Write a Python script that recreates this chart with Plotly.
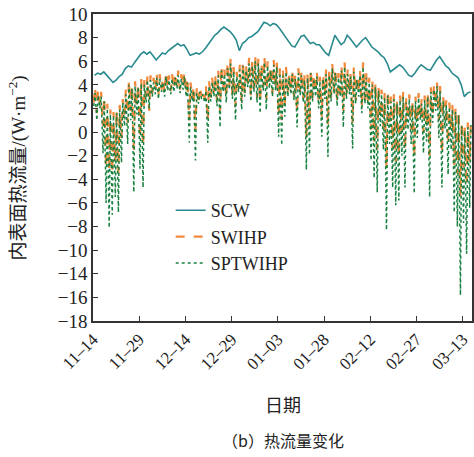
import plotly.graph_objects as go

# Day index 0 = 11-14; x axis ticks every 15 days
tick_days = [0, 15, 30, 45, 60, 75, 90, 105, 120]
tick_labels = ["11–14", "11–29", "12–14", "12–29", "01–03", "01–28", "02–12", "02–27", "03–13"]

y_tickvals = [10, 8, 6, 4, 2, 0, -2, -4, -6, -8, -10, -12, -14, -16]
y_ticktext = ["10", "8", "6", "4", "2", "0", "−2", "−4", "−6", "−8", "−10", "−14", "−16", "−18"]

# SCW: daily inner-surface heat flux (W/m2)
scw = [4.8, 5.0, 4.9, 5.1, 4.8, 4.5, 4.2, 4.4, 4.7, 4.9,
       5.4, 5.6, 5.5, 5.9, 6.3, 6.6, 6.8, 6.6, 6.8, 6.4,
       6.1, 6.4, 6.7, 6.6, 6.9, 7.1, 7.3, 7.5, 7.3, 7.4,
       7.0, 6.5, 6.6, 6.7, 6.6, 6.8, 7.1, 7.5, 7.9, 8.2,
       8.4, 8.7, 8.9, 8.7, 8.5, 8.2, 7.8, 6.9, 7.5, 7.7,
       8.0, 8.1, 8.3, 8.5, 8.9, 9.3, 9.2, 9.0, 9.2, 9.1,
       8.8, 8.4, 8.0, 7.6, 7.3, 7.2, 7.6, 8.1, 8.2, 7.8,
       7.5, 7.6, 7.4, 7.4, 7.0, 6.7, 6.5, 7.3, 8.2, 7.8,
       7.4, 7.6, 8.2, 7.9, 7.5, 7.2, 7.5, 7.8, 8.0, 7.6,
       7.2, 7.0, 6.8, 6.5, 6.3, 5.8, 5.1, 5.3, 5.5, 5.7,
       5.5, 5.1, 4.8, 4.7, 5.0, 5.4, 5.7, 5.5, 5.3, 5.25,
       5.7, 6.1, 6.4, 6.0, 5.6, 5.4, 5.0, 4.8, 4.6, 4.0,
       3.0, 3.3, 3.4]

# SWIHP: daily high / low
swihp_high = [3.8, 3.6, 3.4, 3.0, 2.4, 1.9, 1.7, 1.9, 2.3, 2.8,
              3.6, 4.4, 4.0, 4.3, 4.1, 4.5, 4.4, 4.7, 4.8, 4.6,
              5.0, 4.9, 4.6, 5.1, 4.8, 4.9, 5.0, 5.2, 4.9, 5.1,
              4.6, 4.2, 3.9, 3.7, 3.8, 3.6, 3.9, 4.3, 4.6, 4.8,
              5.2, 5.6, 5.3, 5.9, 6.2, 5.5, 5.1, 5.7, 6.0, 5.6,
              6.3, 6.0, 6.5, 6.2, 5.8, 6.4, 6.0, 5.6, 6.1, 5.9,
              5.4, 5.2, 5.5, 5.0, 5.3, 4.9, 5.4, 5.2, 4.8, 5.0,
              5.4, 4.9, 5.1, 4.7, 4.9, 5.3, 5.2, 5.8, 5.4, 5.0,
              5.6, 5.9, 5.3, 5.1, 5.5, 4.8, 5.2, 5.9, 5.0, 4.6,
              4.4, 4.2, 3.9, 3.6, 3.3, 3.5, 3.0, 3.2, 2.8, 3.1,
              3.4, 2.9, 3.2, 2.7, 3.0, 3.3, 2.8, 3.1, 3.4, 3.8,
              4.0, 4.2, 3.9, 3.0, 2.7, 2.5, 2.3, 2.1, 1.8, 0.9,
              0.5, 0.8, 1.0]
swihp_low = [2.5, 1.6, 2.3, 0.5, -3.0, -3.2, -3.5, -2.5, -3.5, -0.5,
             1.5, 0.8, 1.8, -1.5, 2.3, -0.5, -1.2, 3.0, 1.8, 3.3,
             3.5, 3.2, 3.6, 3.3, 3.8, 3.5, 3.7, 3.9, 3.6, 3.9,
             3.3, 1.0, 2.9, 0.2, 2.7, 3.0, 2.8, 1.0, 2.9, 3.3,
             2.6, 1.8, 3.7, 2.9, 3.9, 3.1, 2.2, 3.7, 2.6, 3.3,
             4.1, 3.0, 3.7, 2.9, 2.6, 3.8, 2.8, 4.0, 3.3, 3.8,
             1.5, 1.0, 2.3, 3.3, 3.5, 3.0, 1.7, 3.4, 2.8, -0.5,
             0.5, 2.9, 3.3, 2.4, 1.3, 3.1, 0.6, 2.9, 3.5, 2.5,
             3.3, 1.8, 3.1, 3.5, 0.8, 2.7, 3.3, 2.2, 2.7, 2.3,
             0.2, -0.8, -1.5, 1.2, 0.3, -3.0, 0.5, -1.5, -2.5, -2.0,
             0.0, -1.5, 1.0, 0.2, -2.0, 0.8, 1.4, 0.0, 0.6, -2.0,
             1.3, 2.2, 1.0, -1.8, 1.0, -1.0, 0.2, -2.8, -3.5, -5.5,
             -3.0, -4.5, -2.5]

# SPTWIHP: daily high / low
sptwihp_high = [3.3, 3.1, 3.0, 2.6, 2.0, 1.5, 1.4, 1.6, 1.9, 2.5,
                3.2, 4.0, 3.7, 3.9, 3.8, 4.1, 4.0, 4.4, 4.4, 4.2,
                4.6, 4.5, 4.2, 4.7, 4.4, 4.5, 4.6, 4.8, 4.5, 4.7,
                4.2, 3.8, 3.5, 3.3, 3.4, 3.2, 3.5, 3.9, 4.2, 4.4,
                4.8, 5.2, 4.9, 5.4, 5.8, 5.1, 4.7, 5.3, 5.6, 5.2,
                5.8, 5.6, 6.0, 5.8, 5.4, 5.9, 5.6, 5.2, 5.7, 5.5,
                5.0, 4.8, 5.1, 4.6, 4.9, 4.5, 5.0, 4.8, 4.4, 4.6,
                5.0, 4.5, 4.7, 4.3, 4.5, 4.9, 4.8, 5.4, 5.0, 4.6,
                5.2, 5.5, 4.9, 4.7, 5.1, 4.4, 4.8, 5.5, 4.6, 4.2,
                4.0, 3.8, 3.5, 3.2, 2.9, 3.1, 2.6, 2.8, 2.4, 2.7,
                3.0, 2.5, 2.8, 2.3, 2.6, 2.9, 2.4, 2.7, 3.0, 3.4,
                3.6, 3.9, 3.5, 2.6, 2.3, 2.1, 1.9, 1.7, 1.4, 0.5,
                0.1, 0.4, 0.6]
sptwihp_low = [2.2, 1.0, 2.0, -1.8, -6.0, -8.1, -7.0, -5.5, -6.8, -2.6,
               0.5, -1.0, 1.0, -5.1, 1.5, -3.1, -4.7, 2.5, 2.0, 3.0,
               3.2, 2.8, 3.4, 3.0, 3.5, 3.2, 3.4, 3.7, 3.3, 3.6,
               3.0, -0.9, 2.6, -2.4, 2.4, 2.8, 2.5, -0.9, 2.6, 3.0,
               2.2, 0.4, 3.4, 2.5, 3.6, 2.8, 1.0, 3.4, 1.9, 3.0,
               3.8, 2.6, 3.4, 2.5, 1.6, 3.5, 1.9, 3.7, 3.0, 3.5,
               -0.4, -1.1, 1.3, 3.0, 3.2, 2.7, 0.4, 3.1, 2.5, -3.2,
               -1.9, 2.6, 3.0, 2.0, -0.4, 2.8, -2.1, 2.6, 3.2, 2.2,
               3.0, 0.4, 2.8, 3.2, -1.4, 2.4, 3.0, 1.6, 2.4, 2.0,
               -2.4, -3.9, -5.1, 0.5, -1.5, -8.3, -1.0, -4.7, -6.2, -5.8,
               -2.0, -4.7, 0.2, -1.0, -5.2, -0.5, 1.0, -1.8, -0.8, -5.5,
               0.8, 1.8, -0.5, -4.7, 0.3, -3.6, -1.5, -6.8, -8.0, -13.8,
               -7.7, -10.3, -6.4]


def daily_cycle(lows, highs):
    """Interleave each day's low (early) and high (afternoon) readings."""
    xs, ys = [], []
    for d, (lo, hi) in enumerate(zip(lows, highs)):
        xs += [d + 0.25, d + 0.65]
        ys += [lo, hi]
    return xs, ys


x_sw, y_sw = daily_cycle(swihp_low, swihp_high)
x_sp, y_sp = daily_cycle(sptwihp_low, sptwihp_high)
x_scw = [d + 0.5 for d in range(len(scw))]

serif = "'Liberation Serif', 'Times New Roman', 'Noto Sans CJK SC', serif"
cjk = "'Noto Sans CJK SC', sans-serif"

fig = go.Figure()
fig.add_trace(go.Scatter(x=x_scw, y=scw, mode="lines", name="SCW",
                         line=dict(color="#2a8a8f", width=1.6)))
fig.add_trace(go.Scatter(x=x_sw, y=y_sw, mode="lines", name="SWIHP",
                         line=dict(color="#f08a3c", width=2.2, dash="dash")))
fig.add_trace(go.Scatter(x=x_sp, y=y_sp, mode="lines", name="SPTWIHP",
                         line=dict(color="#1a8040", width=1.5, dash="dot")))

fig.update_layout(
    width=474, height=457,
    margin=dict(l=93, r=2, t=14, b=136, autoexpand=False),
    paper_bgcolor="white", plot_bgcolor="white",
    font=dict(family=serif, size=17, color="#222"),
    showlegend=True,
    legend=dict(x=0.205, y=0.42, xanchor="left", yanchor="top",
                bgcolor="rgba(0,0,0,0)", font=dict(family=serif, size=18),
                tracegroupgap=0, itemwidth=30),
    xaxis=dict(range=[0, 123], tickvals=tick_days, ticktext=tick_labels,
               tickangle=-45, ticks="inside", ticklen=5, tickcolor="#333",
               ticklabelstandoff=0, ticklabeloverflow="allow", automargin=False,
               showline=True, linecolor="#333", linewidth=1.5, mirror=True,
               showgrid=False, zeroline=False,
               tickfont=dict(family=serif, size=17)),
    yaxis=dict(range=[-16, 10], tickvals=y_tickvals, ticktext=y_ticktext,
               ticks="inside", ticklen=5, tickcolor="#333", automargin=False,
               showline=True, linecolor="#333", linewidth=1.5, mirror=True,
               showgrid=False, zeroline=False,
               tickfont=dict(family=serif, size=19)),
    annotations=[
        dict(text="内表面热流量/(W·m<sup>−2</sup>)", textangle=-90,
             x=-0.198, y=0.5, xref="paper", yref="paper",
             xanchor="center", yanchor="middle", showarrow=False,
             font=dict(family=serif, size=19)),
        dict(text="日期", x=0.5, y=0, xref="paper", yref="paper",
             showarrow=False, font=dict(family=cjk, size=18)),
        dict(text="（b）热流量变化", x=0.5, y=0, xref="paper", yref="paper",
             showarrow=False, font=dict(family=cjk, size=16)),
    ],
)

# place the axis title and caption in pixel terms below the plot area
plot_top, plot_bottom = 14, 321
for ann, ypix in ((fig.layout.annotations[1], 404), (fig.layout.annotations[2], 440)):
    ann.y = (plot_bottom - ypix) / (plot_bottom - plot_top)
    ann.yanchor = "middle"

fig.write_html("out.html")
